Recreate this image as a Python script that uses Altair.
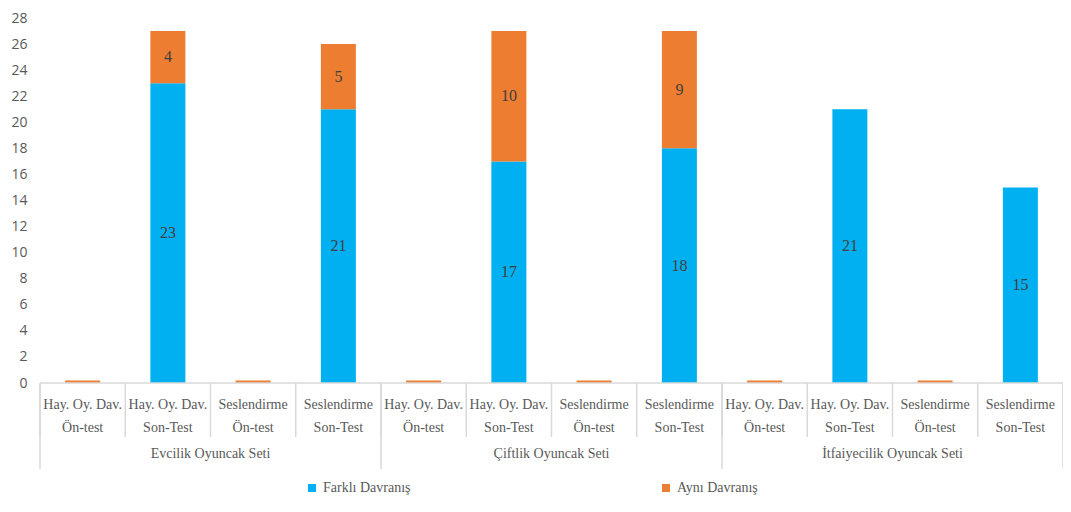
import altair as alt
import pandas as pd

row1 = ["Hay. Oy. Dav.", "Hay. Oy. Dav.", "Seslendirme", "Seslendirme"] * 3
row2 = ["Ön-test", "Son-Test", "Ön-test", "Son-Test"] * 3
groups = ["Evcilik Oyuncak Seti", "Çiftlik Oyuncak Seti", "İtfaiyecilik Oyuncak Seti"]
farkli = [0, 23, 0, 21, 0, 17, 0, 18, 0, 21, 0, 15]
ayni = [0.2, 4, 0.2, 5, 0.2, 10, 0.2, 9, 0.2, 0, 0.2, 0]
series = ["Farklı Davranış", "Aynı Davranış"]
colors = ["#00B0F0", "#ED7D31"]

W, H = 1023, 365
SERIF = "Liberation Serif"
GRAY = "#595959"
LINE = "#D9D9D9"

rows = []
for i in range(12):
    f, a = farkli[i], ayni[i]
    rows.append(dict(pos=i + 0.5, series=series[0], value=f, y0=0, y1=f))
    rows.append(dict(pos=i + 0.5, series=series[1], value=a, y0=f, y1=f + a))
bars_df = pd.DataFrame(rows)
bars_df["mid"] = (bars_df.y0 + bars_df.y1) / 2
bars_df = bars_df[bars_df.value > 0]
labels_df = bars_df[bars_df.value >= 1].copy()
labels_df["txt"] = labels_df.value.astype(int).astype(str)

cat_df = pd.DataFrame(dict(pos=[i + 0.5 for i in range(12)], r1=row1, r2=row2))
grp_df = pd.DataFrame(dict(pos=[2, 6, 10], g=groups))
sep_df = pd.DataFrame(dict(b=list(range(13))))
gsep_df = pd.DataFrame(dict(b=[0, 4, 8, 12]))

xs = alt.Scale(domain=[0, 12], nice=False, zero=False, padding=0)
ys = alt.Scale(domain=[0, 28], nice=False, padding=0)
yaxis = alt.Axis(values=list(range(0, 29, 2)), labelOverlap=False, grid=False,
                 domain=False, ticks=False, labelFont="Open Sans", labelFontSize=14,
                 labelColor=GRAY, labelPadding=13, title=None)

bars = alt.Chart(bars_df).mark_bar(size=35).encode(
    x=alt.X("pos:Q", scale=xs, axis=None),
    y=alt.Y("y0:Q", scale=ys, axis=yaxis),
    y2="y1:Q",
    color=alt.Color("series:N", scale=alt.Scale(domain=series, range=colors),
                    sort=series,
                    legend=alt.Legend(title=None, orient="none", legendX=265, legendY=463,
                                      direction="horizontal", columns=2, columnPadding=248,
                                      symbolType="square", symbolSize=64, symbolStrokeWidth=0,
                                      labelFont=SERIF, labelFontSize=14, labelColor=GRAY,
                                      labelOffset=4)),
)

vals = alt.Chart(labels_df).mark_text(font=SERIF, fontSize=16, color="#404040").encode(
    x=alt.X("pos:Q", scale=xs, axis=None), y=alt.Y("mid:Q", scale=ys, axis=yaxis), text="txt:N")

axis_line = alt.Chart(pd.DataFrame(dict(v=[0]))).mark_rule(color=LINE, strokeWidth=1.5).encode(
    y=alt.Y("v:Q", scale=ys, axis=yaxis), x=alt.value(0), x2=alt.value(W))

seps = alt.Chart(sep_df).mark_rule(color=LINE, strokeWidth=1.5).encode(
    x=alt.X("b:Q", scale=xs, axis=None), y=alt.value(H), y2=alt.value(H + 54))
gseps = alt.Chart(gsep_df).mark_rule(color=LINE, strokeWidth=1.5).encode(
    x=alt.X("b:Q", scale=xs, axis=None), y=alt.value(H), y2=alt.value(H + 86))

t1 = alt.Chart(cat_df).mark_text(font=SERIF, fontSize=14, color=GRAY).encode(
    x=alt.X("pos:Q", scale=xs, axis=None), y=alt.value(H + 22), text="r1:N")
t2 = alt.Chart(cat_df).mark_text(font=SERIF, fontSize=14, color=GRAY).encode(
    x=alt.X("pos:Q", scale=xs, axis=None), y=alt.value(H + 45), text="r2:N")
tg = alt.Chart(grp_df).mark_text(font=SERIF, fontSize=14, color=GRAY).encode(
    x=alt.X("pos:Q", scale=xs, axis=None), y=alt.value(H + 71), text="g:N")

chart = alt.layer(bars, vals, axis_line, seps, gseps, t1, t2, tg).properties(
    width=W, height=H,
    autosize=alt.AutoSizeParams(type="none"),
    padding={"left": 32, "top": 10, "right": 0, "bottom": 112},
).configure_view(stroke=None)

chart.save("out.html", embed_options={"renderer": "svg", "actions": False})
